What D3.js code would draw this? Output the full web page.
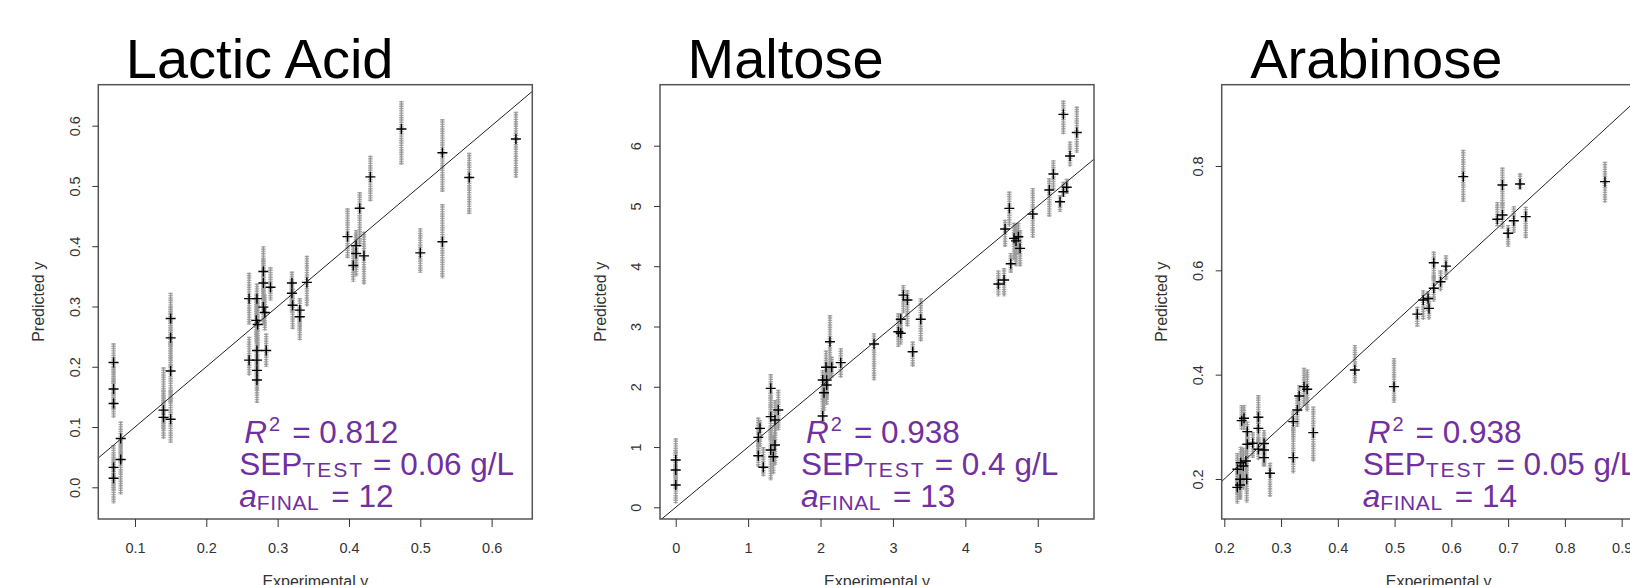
<!DOCTYPE html>
<html><head><meta charset="utf-8">
<script src="https://cdn.jsdelivr.net/npm/d3@7"></script>
<style>body{margin:0;background:#fff}svg{display:block}</style>
</head><body>
<svg id="c" width="1630" height="585"></svg>
<script>
// ---------- DATA ----------
// Lactic Acid: experimental x, mean predicted y (black +), range of individual predictions (grey)
const lacticExp  = [0.070,0.070,0.070,0.070,0.070,0.080,0.080,0.140,0.140,0.150,0.150,0.150,0.150,0.260,0.260,0.271,0.270,0.272,0.271,0.271,0.271,0.271,0.280,0.280,0.280,0.282,0.284,0.290,0.320,0.320,0.321,0.331,0.331,0.341,0.398,0.410,0.410,0.406,0.415,0.421,0.430,0.4735,0.500,0.531,0.531,0.5686,0.634];
const lacticPred = [0.207,0.163,0.139,0.033,0.015,0.081,0.046,0.128,0.116,0.280,0.248,0.193,0.113,0.313,0.211,0.313,0.277,0.270,0.227,0.211,0.194,0.178,0.358,0.339,0.299,0.290,0.227,0.332,0.339,0.322,0.302,0.294,0.283,0.340,0.416,0.401,0.388,0.368,0.463,0.384,0.515,0.5945,0.389,0.555,0.4075,0.514,0.578];
const lacticLo   = [0.170,0.130,0.115,-0.005,-0.027,0.040,-0.012,0.095,0.080,0.230,0.200,0.140,0.074,0.270,0.185,0.280,0.240,0.230,0.200,0.180,0.160,0.140,0.320,0.300,0.270,0.260,0.200,0.310,0.300,0.290,0.262,0.260,0.244,0.300,0.380,0.360,0.350,0.341,0.399,0.336,0.474,0.535,0.356,0.490,0.347,0.453,0.513];
const lacticHi   = [0.239,0.200,0.165,0.070,0.050,0.109,0.080,0.199,0.160,0.323,0.300,0.250,0.160,0.356,0.250,0.338,0.320,0.310,0.260,0.240,0.220,0.200,0.400,0.380,0.330,0.320,0.255,0.365,0.358,0.345,0.330,0.314,0.300,0.384,0.463,0.427,0.420,0.400,0.490,0.424,0.550,0.641,0.430,0.611,0.470,0.555,0.623];

// Maltose
const maltoseExp  = [0,0,0,1.141,1.164,1.141,1.21,1.312,1.312,1.312,1.348,1.371,1.371,1.417,2.03,2.085,2.076,2.048,2.03,2.085,2.13,2.155,2.279,2.739,3.075,3.108,3.108,3.144,3.20,3.273,3.384,4.456,4.535,4.549,4.608,4.627,4.673,4.70,4.732,4.756,4.931,5.16,5.216,5.308,5.354,5.40,5.354,5.446,5.539];
const maltosePred = [0.785,0.619,0.370,1.161,1.31,0.856,0.664,1.974,1.504,0.951,0.84,1.034,1.449,1.614,2.112,2.11,2.323,1.90,1.515,2.03,2.748,2.323,2.40,2.71,2.914,2.887,3.12,3.52,3.44,2.58,3.12,3.705,3.771,4.617,4.96,4.04,4.463,4.42,4.49,4.297,4.866,5.265,5.53,5.07,5.237,5.31,6.52,5.83,6.22];
const maltoseLo   = [0.50,0.30,0.066,0.90,1.00,0.67,0.51,1.50,1.10,0.45,0.55,0.70,1.10,1.28,1.80,1.80,2.00,1.60,1.39,1.70,2.11,2.15,2.15,2.11,2.66,2.70,2.90,3.22,3.00,2.33,2.75,3.50,3.50,4.32,4.66,3.89,4.10,4.00,4.20,3.99,4.47,4.82,5.27,4.90,5.15,5.20,6.19,5.65,5.88];
const maltoseHi   = [1.145,0.95,0.70,1.49,1.45,1.10,1.00,2.21,1.90,1.30,1.20,1.40,1.78,1.95,2.28,2.40,2.60,2.20,1.80,2.30,3.19,2.50,2.64,2.89,3.22,3.10,3.22,3.69,3.60,2.75,3.47,3.93,3.97,4.77,5.24,4.22,4.72,4.70,4.72,4.60,5.30,5.46,5.76,5.18,5.40,5.45,6.75,6.07,6.65];

// Arabinose
const arabExp  = [0.2229,0.2277,0.223,0.229,0.2335,0.228,0.2395,0.238,0.2306,0.2347,0.2405,0.2405,0.250,0.260,0.260,0.260,0.270,0.270,0.270,0.2805,0.3215,0.3215,0.3286,0.332,0.3404,0.346,0.3568,0.430,0.499,0.540,0.5505,0.559,0.5606,0.569,0.569,0.581,0.5905,0.621,0.681,0.690,0.690,0.700,0.710,0.721,0.731,0.8706];
const arabPred = [0.184,0.1885,0.2186,0.231,0.225,0.1995,0.1995,0.2345,0.3118,0.3163,0.2908,0.2665,0.2684,0.3183,0.297,0.257,0.2556,0.268,0.241,0.211,0.241,0.310,0.3322,0.359,0.377,0.372,0.2888,0.409,0.377,0.516,0.543,0.546,0.527,0.5655,0.6146,0.578,0.608,0.7795,0.698,0.7635,0.706,0.671,0.695,0.7655,0.703,0.770];
const arabLo   = [0.153,0.160,0.170,0.190,0.180,0.160,0.155,0.200,0.294,0.294,0.260,0.240,0.240,0.290,0.270,0.236,0.224,0.240,0.224,0.166,0.211,0.280,0.300,0.330,0.340,0.330,0.233,0.383,0.346,0.492,0.505,0.520,0.505,0.540,0.580,0.560,0.581,0.731,0.684,0.720,0.680,0.645,0.671,0.754,0.661,0.730];
const arabHi   = [0.220,0.230,0.250,0.262,0.260,0.240,0.240,0.260,0.342,0.342,0.310,0.290,0.290,0.361,0.330,0.280,0.280,0.294,0.260,0.231,0.300,0.330,0.360,0.380,0.413,0.410,0.339,0.457,0.432,0.530,0.562,0.560,0.550,0.590,0.636,0.600,0.629,0.831,0.731,0.797,0.730,0.687,0.723,0.786,0.722,0.808];

// tick labels
const lacticXTicks  = [0.1,0.2,0.3,0.4,0.5,0.6];
const lacticYTicks  = [0.0,0.1,0.2,0.3,0.4,0.5,0.6];
const maltoseXTicks = [0,1,2,3,4,5];
const maltoseYTicks = [0,1,2,3,4,5,6];
const arabXTicks    = [0.2,0.3,0.4,0.5,0.6,0.7,0.8,0.9];
const arabYTicks    = [0.2,0.4,0.6,0.8];

const titles = ["Lactic Acid","Maltose","Arabinose"];
const r2Vals  = ["0.812","0.938","0.938"];
const sepVals = ["0.06","0.4","0.05"];
const aVals   = ["12","13","14"];

// ---------- LAYOUT ----------
const svg = d3.select("#c");
const TOP = 84.7, PW = 434, PH = 434.3;
const PURPLE = "#7030A0";
const SANS = "Liberation Sans, Arial, Helvetica, sans-serif";
const panels = [
  {exp:lacticExp, pred:lacticPred, lo:lacticLo, hi:lacticHi, xt:lacticXTicks, yt:lacticYTicks, fmt:d3.format(".1f"),
   left:98.3, titleDx:27.5, xDom:[0.0486,0.657], yDom:[-0.0526,0.668]},
  {exp:maltoseExp, pred:maltosePred, lo:maltoseLo, hi:maltoseHi, xt:maltoseXTicks, yt:maltoseYTicks, fmt:d3.format("d"),
   left:660, titleDx:27.5, xDom:[-0.217,5.777], yDom:[-0.194,7.012]},
  {exp:arabExp, pred:arabPred, lo:arabLo, hi:arabHi, xt:arabXTicks, yt:arabYTicks, fmt:d3.format(".1f"),
   left:1221.7, titleDx:28.5, xDom:[0.1954,0.96], yDom:[0.1233,0.9558]}
];

const defs = svg.append("defs");

panels.forEach((p, i) => {
  const x = d3.scaleLinear().domain(p.xDom).range([0, PW]);
  const y = d3.scaleLinear().domain(p.yDom).range([PH, 0]);
  const g = svg.append("g").attr("transform", `translate(${p.left},${TOP})`);

  defs.append("clipPath").attr("id", "clip" + i)
    .append("rect").attr("x", 0).attr("y", 0).attr("width", PW).attr("height", PH);

  const plot = g.append("g").attr("clip-path", `url(#clip${i})`);
  const idx = d3.range(p.exp.length);

  // grey streaks of individual predictions (stacked small '+')
  plot.selectAll("line.gh").data(idx).join("line").attr("class","gh")
    .attr("x1", d => x(p.exp[d])).attr("x2", d => x(p.exp[d]))
    .attr("y1", d => y(p.hi[d])).attr("y2", d => y(p.lo[d]))
    .attr("stroke", "#ababab").attr("stroke-width", 4.5).attr("stroke-dasharray", "1.4 0.9");
  plot.selectAll("line.gv").data(idx).join("line").attr("class","gv")
    .attr("x1", d => x(p.exp[d])).attr("x2", d => x(p.exp[d]))
    .attr("y1", d => y(p.hi[d])).attr("y2", d => y(p.lo[d]))
    .attr("stroke", "#979797").attr("stroke-width", 1.5);

  // black mean crosses
  plot.selectAll("path.m").data(idx).join("path").attr("class","m")
    .attr("transform", d => `translate(${x(p.exp[d])},${y(p.pred[d])})`)
    .attr("d", "M-5,0H5M0,-5V5")
    .attr("stroke", "#000").attr("stroke-width", 1.4).attr("fill", "none");

  // identity line
  const lo = Math.min(p.xDom[0], p.yDom[0]), hi = Math.max(p.xDom[1], p.yDom[1]);
  plot.append("line")
    .attr("x1", x(lo)).attr("y1", y(lo)).attr("x2", x(hi)).attr("y2", y(hi))
    .attr("stroke", "#222").attr("stroke-width", 1);

  // box
  g.append("rect").attr("x", 0).attr("y", 0).attr("width", PW).attr("height", PH)
    .attr("fill", "none").attr("stroke", "#555").attr("stroke-width", 1.5);

  // x axis
  const xa = g.append("g").attr("transform", `translate(0,${PH})`)
    .call(d3.axisBottom(x).tickValues(p.xt).tickFormat(p.fmt).tickSize(8).tickSizeOuter(0));
  xa.select(".domain").remove();
  xa.selectAll("line").attr("stroke", "#333").attr("stroke-width", 1);
  xa.selectAll("text").attr("y", 33.5).attr("dy", null)
    .attr("font-family", SANS).attr("font-size", 14.5).attr("fill", "#333");

  // y axis
  const ya = g.append("g")
    .call(d3.axisLeft(y).tickValues(p.yt).tickFormat(p.fmt).tickSize(6).tickSizeOuter(0));
  ya.select(".domain").remove();
  ya.selectAll("line").attr("stroke", "#333").attr("stroke-width", 1);
  ya.selectAll("text").attr("transform", "rotate(-90)").attr("x", 0).attr("y", -18.8).attr("dy", null)
    .attr("text-anchor", "middle")
    .attr("font-family", SANS).attr("font-size", 14.5).attr("fill", "#333");

  // axis titles
  g.append("text").attr("transform", `translate(-54.5,${PH/2}) rotate(-90)`)
    .attr("text-anchor", "middle").attr("font-family", SANS)
    .attr("font-size", 16).attr("fill", "#333").text("Predicted y");
  g.append("text").attr("x", PW/2).attr("y", 587 - TOP)
    .attr("text-anchor", "middle").attr("font-family", SANS)
    .attr("font-size", 16).attr("fill", "#333").text("Experimental y");

  // title
  svg.append("text").attr("x", p.left + p.titleDx).attr("y", 78.4)
    .attr("font-family", SANS).attr("font-size", 56)
    .attr("fill", "#000").text(titles[i]);

  // statistics text
  const LX = p.left + 141;
  const FS = 31.5;
  const t1 = svg.append("text").attr("x", LX).attr("y", 442.6).attr("font-family", SANS).attr("font-size", FS).attr("fill", PURPLE);
  t1.append("tspan").attr("font-style", "italic").attr("dx", 5).text("R");
  t1.append("tspan").attr("font-size", 20).attr("dy", -11.5).attr("dx", 2).text("2");
  t1.append("tspan").attr("dy", 11.5).attr("dx", 12).text("= " + r2Vals[i]);

  const t2 = svg.append("text").attr("x", LX).attr("y", 474.5).attr("font-family", SANS).attr("font-size", FS).attr("fill", PURPLE);
  t2.append("tspan").text("SEP");
  t2.append("tspan").attr("font-size", 21).attr("dy", 2).attr("letter-spacing", 2).text("TEST");
  t2.append("tspan").attr("dy", -2).attr("dx", 9).text("= " + sepVals[i] + " g/L");

  const t3 = svg.append("text").attr("x", LX).attr("y", 506.5).attr("font-family", SANS).attr("font-size", FS).attr("fill", PURPLE);
  t3.append("tspan").attr("font-style", "italic").text("a");
  t3.append("tspan").attr("font-size", 21).attr("dy", 3).attr("letter-spacing", 0.6).text("FINAL");
  t3.append("tspan").attr("dy", -3).attr("dx", 12).text("= " + aVals[i]);
});
</script>
</body></html>
